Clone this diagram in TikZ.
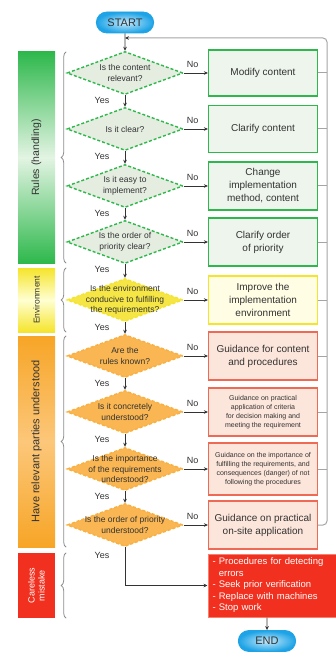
\documentclass[tikz,border=0pt]{standalone}
\usepackage{fontspec}
\setmainfont{Liberation Sans}
\usetikzlibrary{arrows.meta,shapes.geometric,shapes.misc,decorations.pathreplacing}
\definecolor{rulesgreen}{HTML}{2EB84C}
\definecolor{rulesglow}{HTML}{E3F4E3}
\definecolor{rulesfill}{HTML}{E5EDE1}
\definecolor{rulesbox}{HTML}{EDF5EC}
\definecolor{envyellow}{HTML}{F5E42C}
\definecolor{envglow}{HTML}{FFFFD2}
\definecolor{envfill}{HTML}{F5E645}
\definecolor{envbox}{HTML}{FFFDE4}
\definecolor{partyorange}{HTML}{F7A526}
\definecolor{partyglow}{HTML}{FCC77A}
\definecolor{partyfill}{HTML}{F9B652}
\definecolor{partyline}{HTML}{F9B040}
\definecolor{partyred}{HTML}{EE6A55}
\definecolor{partybox}{HTML}{FCE5DA}
\definecolor{carered}{HTML}{F2301F}
\definecolor{careline}{HTML}{F58070}
\definecolor{termblue}{HTML}{1DA3E6}
\definecolor{termglow}{HTML}{C8EAFB}
\definecolor{loopgray}{HTML}{A5A5A5}
\definecolor{bracegray}{HTML}{8C8C8C}
\definecolor{textgray}{HTML}{333333}
\tikzset{
	>={Stealth[length=4pt,width=3.6pt]},
	ask/.style={diamond,line width=1.4pt,dash pattern=on 3pt off 2pt,minimum width=116pt,minimum height=43pt,inner sep=0pt},
	asktext/.style={align=center,text=textgray,font=\fontsize{8.5}{10.5}\selectfont},
	rulesask/.style={ask,draw=rulesgreen,fill=rulesfill},
	envask/.style={ask,draw=envyellow,fill=envfill},
	partyask/.style={ask,draw=partyline,fill=partyfill},
	fix/.style={rectangle,line width=1.2pt,minimum width=109pt,minimum height=47pt,inner sep=1pt,align=center,text=textgray,font=\fontsize{10}{13}\selectfont},
	rulesfix/.style={fix,draw=rulesgreen,fill=rulesbox},
	envfix/.style={fix,draw=envyellow,fill=envbox},
	partyfix/.style={fix,draw=partyred,fill=partybox},
	fine/.style={font=\fontsize{7}{9}\selectfont},
	stopbox/.style={rectangle,draw=careline,fill=carered,line width=1pt,minimum width=129pt,minimum height=63pt,text width=120pt,inner xsep=4pt,align=left,text=white,font=\fontsize{9.5}{11.5}\selectfont},
	tagbar/.style={rectangle,rotate=90,minimum height=37pt,inner sep=1pt,align=center,text=textgray},
	term/.style={rounded rectangle,draw=termblue,line width=0.8pt,inner color=termglow,outer color=termblue,minimum width=64pt,minimum height=21pt,font=\fontsize{11}{13}\selectfont,text=textgray},
	yes/.style={text=textgray,font=\fontsize{9}{10}\selectfont,inner sep=0pt},
	brace/.style={decorate,decoration={brace,amplitude=5pt},draw=bracegray,line width=0.8pt},
	back/.style={draw=loopgray,line width=1pt,rounded corners=4pt},
	flow/.style={draw=black!80,line width=0.7pt}
}

\begin{document}
\begin{tikzpicture}[x=1pt,y=-1pt]
	\useasboundingbox (0,0) rectangle (336,652);
	% side bars
	\node[tagbar,top color=rulesgreen,bottom color=rulesgreen,middle color=rulesglow,minimum width=211pt,font=\fontsize{10.5}{12}\selectfont] (rules) at (36.5,157.5) {Rules (handling)};
	\node[tagbar,top color=envyellow,bottom color=envyellow,middle color=envglow,minimum width=64pt,font=\fontsize{8.5}{10}\selectfont] (env) at (36.5,300) {Environment};
	\node[tagbar,top color=partyorange,bottom color=partyorange,middle color=partyglow,minimum width=211pt,font=\fontsize{11}{13}\selectfont] (party) at (36.5,441.5) {Have relevant parties understood};
	\node[tagbar,fill=carered,text=white,minimum width=65pt,font=\fontsize{9}{10}\selectfont] (careless) at (36.5,585.5) {Careless\\mistake};
	\draw[brace] ([xshift=11pt]rules.south west) -- ([xshift=11pt]rules.south east);
	\draw[brace] ([xshift=11pt]env.south west) -- ([xshift=11pt]env.south east);
	\draw[brace] ([xshift=11pt]party.south west) -- ([xshift=11pt]party.south east);
	\draw[brace] ([xshift=11pt]careless.south west) -- ([xshift=11pt]careless.south east);

	% questions
	\node[term] (start) at (125,22.5) {START};
	\node[rulesask] (q1) at (125,73) {};
	\node[asktext] (q1t) at (q1) {Is the content\\relevant?};
	\node[rulesask] (q2) at (125,129) {};
	\node[asktext] (q2t) at (q2) {Is it clear?};
	\node[rulesask] (q3) at (125,186) {};
	\node[asktext] (q3t) at (q3) {Is it easy to\\implement?};
	\node[rulesask] (q4) at (125,242) {};
	\node[asktext] (q4t) at (q4) {Is the order of\\priority clear?};
	\node[envask] (q5) at (125,300) {};
	\node[asktext] (q5t) at (q5) {Is the environment\\conducive to fulfilling\\the requirements?};
	\node[partyask] (q6) at (125,356) {};
	\node[asktext] (q6t) at (q6) {Are the\\rules known?};
	\node[partyask] (q7) at (125,412) {};
	\node[asktext] (q7t) at (q7) {Is it concretely\\understood?};
	\node[partyask] (q8) at (125,469) {};
	\node[asktext] (q8t) at (q8) {Is the importance\\of the requirements\\understood?};
	\node[partyask] (q9) at (125,525) {};
	\node[asktext] (q9t) at (q9) {Is the order of priority\\understood?};

	% measures
	\node[rulesfix,minimum height=46pt] (f1) at (263,73) {Modify content};
	\node[rulesfix] (f2) at (263,129) {Clarify content};
	\node[rulesfix,minimum height=48pt] (f3) at (263,186) {Change\\implementation\\method, content};
	\node[rulesfix,minimum height=48pt] (f4) at (263,242) {Clarify order\\of priority};
	\node[envfix,minimum height=48pt] (f5) at (263,300) {Improve the\\implementation\\environment};
	\node[partyfix,minimum height=48pt] (f6) at (263,356) {Guidance for content\\and procedures};
	\node[partyfix,fine,minimum height=48pt] (f7) at (263,412) {Guidance on practical\\application of criteria\\for decision making and\\meeting the requirement};
	\node[partyfix,fine,minimum height=52pt] (f8) at (263,469) {Guidance on the importance of\\fulfilling the requirements, and\\consequences (danger) of not\\following the procedures};
	\node[partyfix,minimum height=48pt] (f9) at (263,525) {Guidance on practical\\on-site application};
	\node[stopbox] (stop) at (272.5,585.5) {- Procedures for detecting\\\hphantom{- }errors\\- Seek prior verification\\- Replace with machines\\- Stop work};
	\node[term] (done) at (267,641) {END};

	% back to the top
	\coordinate (turn) at (327,38);
	\draw[back,-{Stealth[length=4pt,width=3.6pt,color=black!80]}] (f9.east) -| (turn) -- (start.south |- turn);
	\draw[back] (f1.east) -- (f1.east -| turn);
	\draw[back] (f2.east) -- (f2.east -| turn);
	\draw[back] (f3.east) -- (f3.east -| turn);
	\draw[back] (f4.east) -- (f4.east -| turn);
	\draw[back] (f5.east) -- (f5.east -| turn);
	\draw[back] (f6.east) -- (f6.east -| turn);
	\draw[back] (f7.east) -- (f7.east -| turn);
	\draw[back] (f8.east) -- (f8.east -| turn);

	% main flow
	\draw[flow,->] (start) -- (q1);
	\draw[flow,->] (q1) -- (q2);
	\draw[flow,->] (q2) -- (q3);
	\draw[flow,->] (q3) -- (q4);
	\draw[flow,->] (q4) -- (q5);
	\draw[flow,->] (q5) -- (q6);
	\draw[flow,->] (q6) -- (q7);
	\draw[flow,->] (q7) -- (q8);
	\draw[flow,->] (q8) -- (q9);
	\draw[flow,->] (q9) |- (stop);
	\draw[flow,->] (stop.south -| done) -- (done);
	\draw[flow,->] (q1) -- (f1);
	\draw[flow,->] (q2) -- (f2);
	\draw[flow,->] (q3) -- (f3);
	\draw[flow,->] (q4) -- (f4);
	\draw[flow,->] (q5) -- (f5);
	\draw[flow,->] (q6) -- (f6);
	\draw[flow,->] (q7) -- (f7);
	\draw[flow,->] (q8) -- (f8);
	\draw[flow,->] (q9) -- (f9);

	% yes / no
	\node[yes] (y1) at ([xshift=-23pt,yshift=-5pt]q1.south) {Yes};
	\node[yes] (y2) at ([xshift=-23pt,yshift=-5pt]q2.south) {Yes};
	\node[yes] (y3) at ([xshift=-23pt,yshift=-5pt]q3.south) {Yes};
	\node[yes] (y4) at ([xshift=-23pt,yshift=-5pt]q4.south) {Yes};
	\node[yes] (y5) at ([xshift=-23pt,yshift=-5pt]q5.south) {Yes};
	\node[yes] (y6) at ([xshift=-23pt,yshift=-5pt]q6.south) {Yes};
	\node[yes] (y7) at ([xshift=-23pt,yshift=-5pt]q7.south) {Yes};
	\node[yes] (y8) at ([xshift=-23pt,yshift=-5pt]q8.south) {Yes};
	\node[yes] (y9) at ([xshift=-23pt,yshift=-8pt]q9.south) {Yes};
	\node[yes] (n1) at ([xshift=9pt,yshift=9pt]q1.east) {No};
	\node[yes] (n2) at ([xshift=9pt,yshift=9pt]q2.east) {No};
	\node[yes] (n3) at ([xshift=9pt,yshift=9pt]q3.east) {No};
	\node[yes] (n4) at ([xshift=9pt,yshift=9pt]q4.east) {No};
	\node[yes] (n5) at ([xshift=9pt,yshift=9pt]q5.east) {No};
	\node[yes] (n6) at ([xshift=9pt,yshift=9pt]q6.east) {No};
	\node[yes] (n7) at ([xshift=9pt,yshift=9pt]q7.east) {No};
	\node[yes] (n8) at ([xshift=9pt,yshift=9pt]q8.east) {No};
	\node[yes] (n9) at ([xshift=9pt,yshift=9pt]q9.east) {No};
\end{tikzpicture}
\end{document}
